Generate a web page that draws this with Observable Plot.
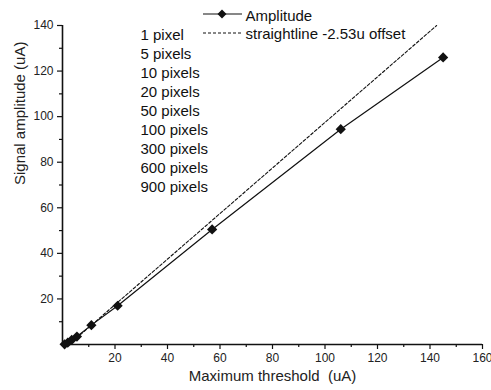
<!DOCTYPE html>
<html>
<head>
<meta charset="utf-8">
<script src="https://cdn.jsdelivr.net/npm/d3@7"></script>
<script src="https://cdn.jsdelivr.net/npm/@observablehq/plot@0.6"></script>
<style>
  html, body { margin: 0; padding: 0; background: #fff; }
  svg { display: block; }
</style>
</head>
<body>
<div id="chart"></div>
<script>
// Data
const thresholdX = [0.8, 2, 3.5, 5.5, 11, 21, 57, 106, 145];
const amplitudeY = [0.1, 0.8, 2, 3.5, 8.5, 17, 50.5, 94.5, 126];
const offsetLineX = [2.53, 142.53];
const offsetLineY = [0, 140];
const pixelLabels = ["1 pixel", "5 pixels", "10 pixels", "20 pixels", "50 pixels", "100 pixels", "300 pixels", "600 pixels", "900 pixels"];
const xMajorTicks = [20, 40, 60, 80, 100, 120, 140, 160];
const xMinorTicks = [10, 30, 50, 70, 90, 110, 130, 150];
const yMajorTicks = [20, 40, 60, 80, 100, 120, 140];
const yMinorTicks = [10, 30, 50, 70, 90, 110, 130];
const legendLabels = ["Amplitude", "straightline -2.53u offset"];

const amp = thresholdX.map((x, i) => ({x, y: amplitudeY[i]}));
const offsetLine = offsetLineX.map((x, i) => ({x, y: offsetLineY[i]}));

const FONT = "'Liberation Sans', Arial, sans-serif";

const legendSamples = (index, scales, values, dims) => {
  const g = d3.create("svg:g");
  const x0 = 203, x1 = 242;
  g.append("line").attr("x1", x0).attr("x2", x1).attr("y1", 14).attr("y2", 14)
    .attr("stroke", "#111").attr("stroke-width", 1.2);
  g.append("path").attr("d", "M222,9.5L226.5,14L222,18.5L217.5,14Z").attr("fill", "#111");
  g.append("line").attr("x1", x0).attr("x2", x1).attr("y1", 33).attr("y2", 33)
    .attr("stroke", "#111").attr("stroke-width", 1.1).attr("stroke-dasharray", "3,2");
  return g.node();
};

const chart = Plot.plot({
  width: 491,
  height: 390,
  marginLeft: 62,
  marginRight: 9,
  marginTop: 25,
  marginBottom: 46,
  x: {domain: [0, 160]},
  y: {domain: [0, 140]},
  style: {fontFamily: FONT, fontSize: "12px", color: "#222", background: "#fff"},
  marks: [
    Plot.axisX({ticks: xMajorTicks, tickSize: 5, tickPadding: 4, label: null, fontSize: 12, stroke: "#111", strokeWidth: 1.2}),
    Plot.axisX({ticks: xMinorTicks, tickSize: 3, tickFormat: () => "", label: null, stroke: "#111", strokeWidth: 1.2}),
    Plot.axisY({ticks: yMajorTicks, tickSize: 5, tickPadding: 4, label: null, fontSize: 12, stroke: "#111", strokeWidth: 1.2}),
    Plot.axisY({ticks: yMinorTicks, tickSize: 3, tickFormat: () => "", label: null, stroke: "#111", strokeWidth: 1.2}),
    Plot.ruleX([0], {stroke: "#111", strokeWidth: 1.6}),
    Plot.ruleY([0], {stroke: "#111", strokeWidth: 1.6}),
    Plot.line(offsetLine, {x: "x", y: "y", stroke: "#111", strokeWidth: 1.1, strokeDasharray: "3,2"}),
    Plot.line(amp, {x: "x", y: "y", stroke: "#111", strokeWidth: 1.2}),
    Plot.dot(amp, {x: "x", y: "y", symbol: "diamond2", r: 4.6, fill: "#111", stroke: null}),
    Plot.text([pixelLabels.join("\n")], {frameAnchor: "top-left", dx: 78, dy: 1, lineAnchor: "top", textAnchor: "start", lineHeight: 1.267, fontSize: 15, fill: "#111"}),
    Plot.text([legendLabels[0]], {frameAnchor: "top-left", dx: 183, dy: -15, textAnchor: "start", fontSize: 15, fill: "#111"}),
    Plot.text([legendLabels[1]], {frameAnchor: "top-left", dx: 183, dy: 3, textAnchor: "start", fontSize: 15, fill: "#111"}),
    legendSamples,
    Plot.text(["Maximum threshold\u00a0 (uA)"], {frameAnchor: "bottom", dy: 36, fontSize: 15, fill: "#222"}),
    Plot.text(["Signal amplitude (uA)"], {frameAnchor: "left", dx: -42, rotate: -90, fontSize: 15, fill: "#222"})
  ]
});
document.getElementById("chart").appendChild(chart);
</script>
</body>
</html>
